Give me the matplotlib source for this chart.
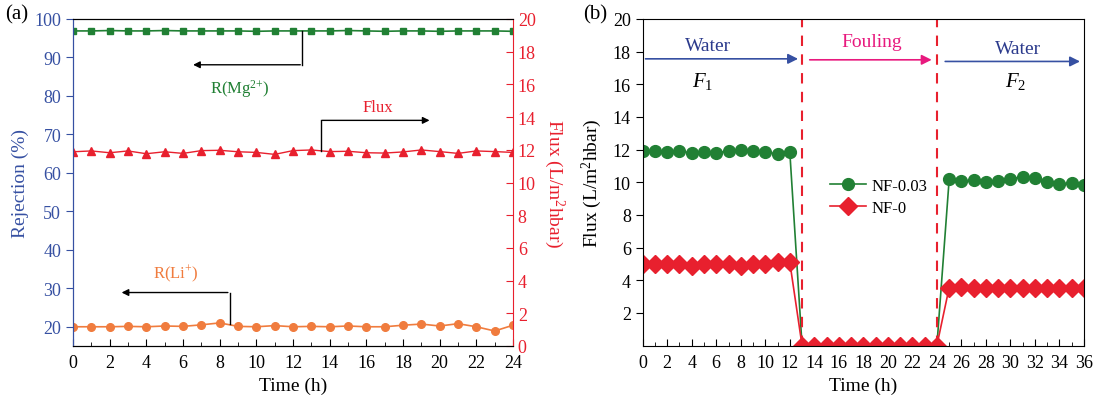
import matplotlib
matplotlib.use("Agg")
import matplotlib.pyplot as plt
import numpy as np

plt.rcParams['font.family'] = ['Liberation Serif', 'DejaVu Serif']
plt.rcParams['mathtext.fontset'] = 'custom'
plt.rcParams['mathtext.rm'] = 'Liberation Serif'
plt.rcParams['mathtext.it'] = 'Liberation Serif:italic'

# ---------------- data (a) ----------------
time_a = list(range(0, 25))
rej_mg = [96.9, 96.9, 97.0, 96.9, 96.9, 97.0, 96.9, 96.9, 96.9, 96.9, 96.8, 96.9, 96.9,
          96.9, 96.9, 97.0, 96.9, 96.8, 96.9, 96.9, 96.8, 96.9, 96.9, 96.9, 96.8]
rej_li = [20.0, 20.0, 20.0, 20.1, 20.0, 20.2, 20.1, 20.5, 21.0, 20.1, 20.0, 20.3, 20.0,
          20.1, 20.0, 20.2, 20.0, 20.0, 20.4, 20.7, 20.2, 20.8, 20.0, 18.9, 20.4]
flux_a = [11.88, 11.93, 11.82, 11.93, 11.76, 11.88, 11.78, 11.95, 11.97, 11.88, 11.84, 11.72, 11.95,
          11.99, 11.89, 11.91, 11.82, 11.80, 11.87, 11.99, 11.89, 11.78, 11.93, 11.89, 11.84]

# ---------------- data (b) ----------------
time_b = list(range(0, 37))
nf003 = [11.89, 11.93, 11.83, 11.91, 11.79, 11.87, 11.79, 11.93, 11.95, 11.89, 11.83, 11.75, 11.87,
         0, 0, 0, 0, 0, 0, 0, 0, 0, 0, 0, 0,
         10.17, 10.05, 10.15, 10.03, 10.09, 10.21, 10.34, 10.26, 10.03, 9.89, 9.97, 9.85]
nf0 = [5.0, 5.0, 5.0, 5.0, 4.9, 5.0, 5.0, 5.0, 4.9, 5.0, 5.0, 5.1, 5.1,
       0, 0, 0, 0, 0, 0, 0, 0, 0, 0, 0, 0,
       3.55, 3.6, 3.55, 3.55, 3.55, 3.55, 3.5, 3.55, 3.5, 3.5, 3.5, 3.5]
phase_bounds = [13, 24]

BLUE = '#3650a2'
RED = '#e8202e'
GREEN = '#218034'
ORANGE = '#f07c3e'
PINK = '#e8197e'
NAVY = '#2b3a8c'

fig = plt.figure(figsize=(10.94, 4.10), dpi=100)
FS = 13

# ---------------- panel (a) ----------------
ax = fig.add_axes([73/1094, 1-347/410, 440/1094, 327/410])
ax2 = ax.twinx()
ax.plot(time_a, rej_mg, color=GREEN, marker='s', ms=4.5, lw=1.2)
ax.plot(time_a, rej_li, color=ORANGE, marker='o', ms=5.5, lw=1.2)
ax2.plot(time_a, flux_a, color=RED, marker='^', ms=6, lw=1.0)

ax.set_xlim(0, 24)
ax.set_ylim(15, 100)
ax2.set_ylim(0, 20)
ax.set_xticks(range(0, 25, 2))
ax.set_xticks(range(1, 25, 2), minor=True)
ax.set_yticks(range(20, 101, 10))
ax2.set_yticks(range(0, 21, 2))
ax.tick_params(axis='x', which='both', direction='in', top=False, labelsize=FS, length=5, pad=6)
ax.tick_params(axis='x', which='minor', length=3)
ax.tick_params(axis='y', direction='out', colors=BLUE, labelsize=FS, length=5)
ax2.tick_params(axis='y', direction='in', colors=RED, labelsize=FS, length=5)
ax.spines['left'].set_color(BLUE)
ax2.spines['left'].set_color(BLUE)
ax2.spines['right'].set_color(RED)
ax.spines['right'].set_visible(False)
ax.set_xlabel('Time (h)', fontsize=FS + 1)
ax.set_ylabel('Rejection (%)', fontsize=FS + 1, color=BLUE, labelpad=4)
ax2.set_ylabel('Flux (L/m$^2$hbar)', fontsize=FS + 1, color=RED, rotation=270, labelpad=22)

# annotations (a)
ax.plot([12.5, 12.5], [96.9, 88.1], color='black', lw=1)
ax.annotate('', xy=(6.4, 88.1), xytext=(12.55, 88.1),
            arrowprops=dict(arrowstyle='-|>', color='black', lw=1, mutation_scale=10))
ax.text(9.1, 82.1, 'R(Mg$^{2{+}}$)', color=GREEN, fontsize=FS - 1, ha='center', va='center')

ax.plot([8.55, 8.55], [20.8, 28.9], color='black', lw=1)
ax.annotate('', xy=(2.5, 28.9), xytext=(8.6, 28.9),
            arrowprops=dict(arrowstyle='-|>', color='black', lw=1, mutation_scale=10))
ax.text(5.6, 34.0, 'R(Li$^{{+}}$)', color=ORANGE, fontsize=FS - 1, ha='center', va='center')

ax2.plot([13.5, 13.5], [11.95, 13.8], color='black', lw=1)
ax2.annotate('', xy=(19.6, 13.8), xytext=(13.45, 13.8),
             arrowprops=dict(arrowstyle='-|>', color='black', lw=1, mutation_scale=10))
ax2.text(16.6, 14.6, 'Flux', color=RED, fontsize=FS - 1, ha='center', va='center')

fig.text(5/1094, 1-15/410, '(a)', fontsize=FS + 2, va='center', ha='left')

# ---------------- panel (b) ----------------
bx = fig.add_axes([642.7/1094, 1-346.5/410, 441.3/1094, 326.5/410])
bx.plot(time_b, nf003, color=GREEN, marker='o', ms=8.5, lw=1.2, label='NF-0.03')
bx.plot(time_b, nf0, color=RED, marker='D', ms=9, lw=1.2, label='NF-0')
for xb in phase_bounds:
    bx.axvline(xb, color=RED, ls=(0, (5, 4)), lw=1.5)
bx.set_xlim(0, 36)
bx.set_ylim(0, 20)
bx.set_xticks(range(0, 37, 2))
bx.set_xticks(range(1, 37, 2), minor=True)
bx.set_yticks(range(2, 21, 2))
bx.tick_params(axis='x', which='both', direction='in', labelsize=FS, length=5, pad=6)
bx.tick_params(axis='x', which='minor', length=3)
bx.tick_params(axis='y', direction='out', labelsize=FS, length=5)
bx.set_xlabel('Time (h)', fontsize=FS + 1)
bx.set_ylabel('Flux (L/m$^2$hbar)', fontsize=FS + 1, labelpad=6)

bx.annotate('', xy=(12.9, 17.56), xytext=(0, 17.56),
            arrowprops=dict(arrowstyle='-|>', color=BLUE, lw=1.2, mutation_scale=15))
bx.text(5.3, 18.4, 'Water', color=NAVY, fontsize=FS + 1, ha='center', va='center')
bx.text(4.9, 16.25, r'$\mathit{F}_{\mathit{1}}$', color='black', fontsize=FS + 2, ha='center', va='center')
bx.annotate('', xy=(23.8, 17.5), xytext=(13.4, 17.5),
            arrowprops=dict(arrowstyle='-|>', color=PINK, lw=1.2, mutation_scale=15))
bx.text(18.7, 18.6, 'Fouling', color=PINK, fontsize=FS + 1, ha='center', va='center')
bx.annotate('', xy=(35.9, 17.4), xytext=(24.45, 17.4),
            arrowprops=dict(arrowstyle='-|>', color=BLUE, lw=1.2, mutation_scale=15))
bx.text(30.6, 18.2, 'Water', color=NAVY, fontsize=FS + 1, ha='center', va='center')
bx.text(30.4, 16.25, r'$\mathit{F}_{2}$', color='black', fontsize=FS + 2, ha='center', va='center')

bx.legend(loc='center left', bbox_to_anchor=(0.39, 0.455), frameon=False, fontsize=FS - 1,
          handlelength=2.2, handletextpad=0.3, labelspacing=0.4)

fig.text(583/1094, 1-15/410, '(b)', fontsize=FS + 2, va='center', ha='left')

fig.savefig('out.png', dpi=100)
